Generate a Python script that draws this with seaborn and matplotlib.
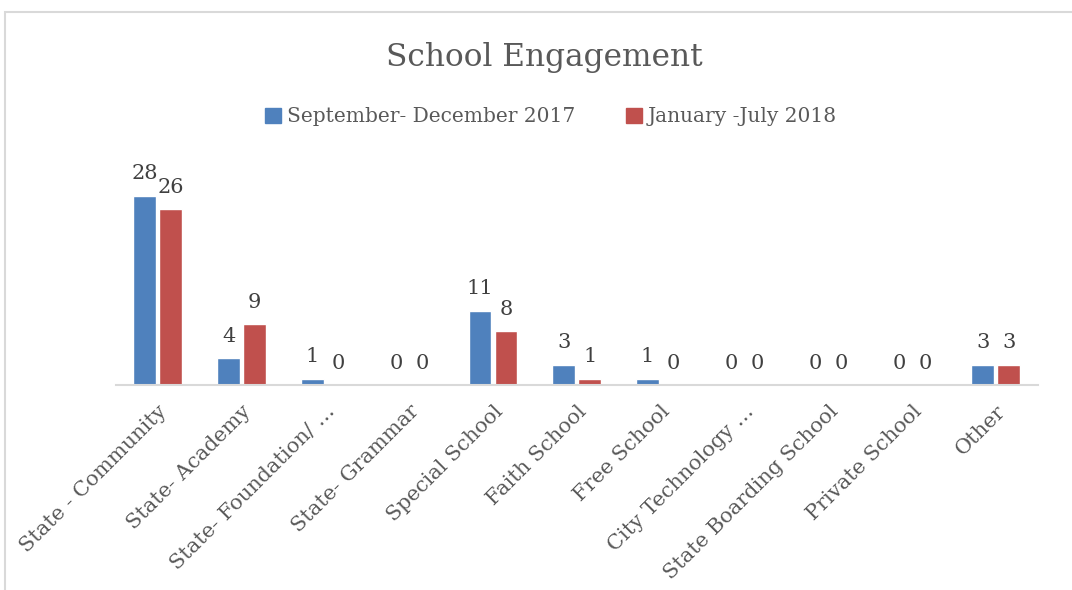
import matplotlib
matplotlib.use("Agg")
import matplotlib.pyplot as plt
import matplotlib.patches as mpatches
import seaborn as sns
import pandas as pd

categories = [
    "State - Community", "State- Academy", "State- Foundation/ \u2026", "State- Grammar",
    "Special School", "Faith School", "Free School", "City Technology \u2026",
    "State Boarding School", "Private School", "Other",
]
series_names = ["September- December 2017", "January -July 2018"]
sep_dec_2017 = [28, 4, 1, 0, 11, 3, 1, 0, 0, 0, 3]
jan_jul_2018 = [26, 9, 0, 0, 8, 1, 0, 0, 0, 0, 3]
colors = ["#4F81BD", "#C0504D"]

df = pd.DataFrame({
    "category": categories * 2,
    "period": [series_names[0]] * len(categories) + [series_names[1]] * len(categories),
    "count": sep_dec_2017 + jan_jul_2018,
})

sns.set_theme(style="white")
plt.rcParams["font.family"] = ["DejaVu Serif"]

fig = plt.figure(figsize=(10.72, 5.90), dpi=100)
ax = fig.add_axes([0.108, 0.347, 0.860, 0.344])

sns.barplot(data=df, x="category", y="count", hue="period", order=categories,
            hue_order=series_names, palette=colors, width=0.62, gap=0.13,
            saturation=1, ax=ax, legend=False)

ax.set_ylim(0, 30)
ax.set_xlim(-0.5, len(categories) - 0.5)
ax.set_xlabel("")
ax.set_ylabel("")
ax.set_yticks([])
for side in ["top", "left", "right"]:
    ax.spines[side].set_visible(False)
ax.spines["bottom"].set_color("#D9D9D9")
ax.spines["bottom"].set_linewidth(1.5)
ax.tick_params(axis="x", length=0, pad=12)
ax.set_xticks(range(len(categories)))
ax.set_xticklabels(categories, rotation=45, ha="right", rotation_mode="anchor",
                   fontsize=15, color="#595959")

# value labels above each bar
for container in ax.containers:
    ax.bar_label(container, labels=[f"{int(v)}" for v in container.datavalues],
                 padding=9, fontsize=15, color="#404040")

# title and legend
fig.text(0.508, 0.903, "School Engagement", ha="center", va="center",
         fontsize=22.5, color="#595959")
handles = [mpatches.Patch(color=c, label=n) for c, n in zip(colors, series_names)]
fig.legend(handles=handles, loc="center", bbox_to_anchor=(0.514, 0.802), ncol=2,
           frameon=False, fontsize=14.5, labelcolor="#595959", handlelength=0.8,
           handleheight=0.8, handletextpad=0.3, columnspacing=2.5)

# chart frame
frame = mpatches.Rectangle((5 / 1072, -0.05), 1.1, 1 - 12 / 590 + 0.05,
                           transform=fig.transFigure, fill=False,
                           edgecolor="#D9D9D9", linewidth=1.5)
fig.patches.append(frame)

fig.savefig("out.png", dpi=100)
